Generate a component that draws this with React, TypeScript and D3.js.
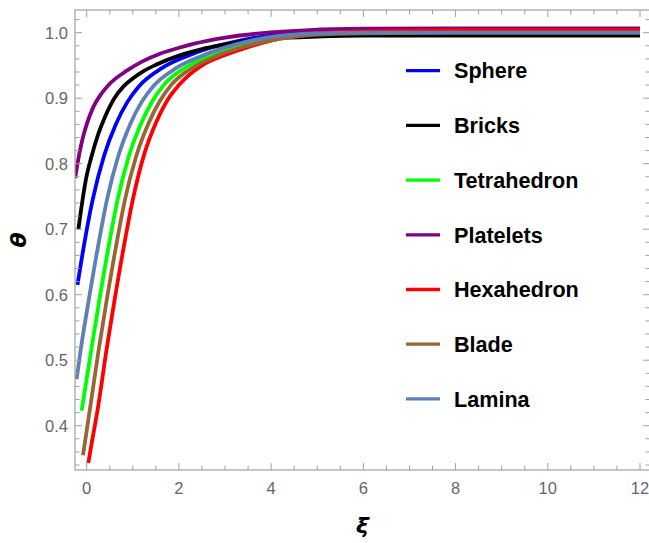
import React from "react";
import * as d3 from "d3";

// ---- data (ξ, θ) ----
const seriesNames = ["Sphere", "Bricks", "Tetrahedron", "Platelets", "Hexahedron", "Blade", "Lamina"];
const seriesColors = ["#0000ff", "#000000", "#00ff00", "#800080", "#ff0000", "#996633", "#5e81b5"];

const sphere: [number, number][] = [
  [-0.2, 0.615], [-0.04, 0.683], [0.13, 0.745], [0.38, 0.813], [0.63, 0.86], [0.88, 0.894],
  [1.13, 0.918], [1.63, 0.946], [2.13, 0.963], [2.63, 0.976], [3.13, 0.985], [3.63, 0.992],
  [4.5, 0.998], [6, 1.0], [8, 1.0], [12, 1.0],
];
const bricks: [number, number][] = [
  [-0.18, 0.7], [-0.1, 0.74], [0.0, 0.782], [0.1, 0.81], [0.25, 0.845], [0.4, 0.872], [0.6, 0.9],
  [0.8, 0.918], [1.0, 0.93], [1.25, 0.942], [1.5, 0.951], [2.0, 0.965], [2.5, 0.975], [3.0, 0.982],
  [3.5, 0.988], [4, 0.991], [5, 0.994], [6, 0.9955], [8, 0.9957], [12, 0.9957],
];
const tetrahedron: [number, number][] = [
  [-0.11, 0.423], [0.1, 0.516], [0.27, 0.59], [0.5, 0.683], [0.67, 0.745], [0.92, 0.813],
  [1.17, 0.86], [1.42, 0.895], [1.67, 0.92], [2.17, 0.948], [2.67, 0.965], [3.17, 0.978],
  [3.67, 0.987], [4.17, 0.994], [5, 0.999], [6, 1.001], [8, 1.002], [12, 1.002],
];
const platelets: [number, number][] = [
  [-0.25, 0.778], [-0.2, 0.8], [-0.1, 0.835], [0.0, 0.86], [0.14, 0.886], [0.3, 0.905],
  [0.5, 0.922], [0.87, 0.942], [1.23, 0.957], [1.59, 0.968], [2.0, 0.977], [2.31, 0.983],
  [3.04, 0.993], [3.76, 0.999], [4.84, 1.004], [6, 1.006], [8, 1.0067], [12, 1.0067],
];
const hexahedron: [number, number][] = [
  [0.035, 0.343], [0.1, 0.37], [0.25, 0.43], [0.43, 0.516], [0.6, 0.59], [0.83, 0.683],
  [1.0, 0.745], [1.25, 0.815], [1.5, 0.862], [1.75, 0.897], [2.0, 0.92], [2.5, 0.95],
  [3.0, 0.966], [3.5, 0.978], [4.0, 0.988], [4.5, 0.995], [5, 0.999], [6, 1.002],
  [7, 1.003], [8, 1.004], [12, 1.004],
];
const blade: [number, number][] = [
  [-0.08, 0.355], [0.08, 0.43], [0.26, 0.516], [0.43, 0.59], [0.66, 0.683], [0.83, 0.745],
  [1.08, 0.813], [1.33, 0.86], [1.58, 0.895], [1.83, 0.92], [2.33, 0.948], [2.83, 0.965],
  [3.33, 0.977], [3.83, 0.986], [4.33, 0.992], [5, 0.997], [6, 0.999], [8, 1.0], [12, 1.0],
];
const lamina: [number, number][] = [
  [-0.22, 0.471], [-0.13, 0.516], [0.04, 0.59], [0.27, 0.683], [0.44, 0.745], [0.69, 0.813],
  [0.94, 0.86], [1.19, 0.894], [1.44, 0.918], [1.94, 0.946], [2.44, 0.963], [2.94, 0.976],
  [3.44, 0.986], [3.94, 0.993], [5, 0.999], [6, 1.0], [8, 1.0], [12, 1.0],
];
const seriesData = [sphere, bricks, tetrahedron, platelets, hexahedron, blade, lamina];

const xMajorTicks = [0, 2, 4, 6, 8, 10, 12];
const yMajorTicks = [0.4, 0.5, 0.6, 0.7, 0.8, 0.9, 1.0];

export default function App() {
  const W = 649, H = 543;
  const L = 75, R = 650, T = 10, B = 470;
  const x = d3.scaleLinear().domain([0, 12]).range([86.7, 640]);
  const y = d3.scaleLinear().domain([0.4, 1.0]).range([425.7, 32.7]);

  const xMinor = d3.range(-1, 13, 0.5).filter((v) => x(v) > L + 1 && x(v) < R - 1 && !xMajorTicks.includes(v));
  const yMinor = d3
    .range(0.3, 1.06, 0.02)
    .map((v) => Math.round(v * 100) / 100)
    .filter((v) => y(v) > T + 1 && y(v) < B - 1 && !yMajorTicks.some((m) => Math.abs(m - v) < 1e-6));

  const line = d3
    .line<[number, number]>()
    .x((d) => x(d[0]))
    .y((d) => y(d[1]))
    .curve(d3.curveMonotoneX);

  const frame = "#a0a0a0";
  const tickCol = "#666666";
  const majLen = 7, minLen = 4.5;
  const legendY0 = 70.7, legendDy = 54.7;

  return (
    <svg width={W} height={H} style={{ position: "absolute", left: 0, top: 0, background: "#fff" }}>
      <defs>
        <clipPath id="plotclip">
          <rect x={L} y={T} width={R - L} height={B - T} />
        </clipPath>
      </defs>
      <rect x={0} y={0} width={W} height={H} fill="#fff" />
      {/* curves */}
      <g clipPath="url(#plotclip)">
        {seriesData.map((s, i) => (
          <path key={i} d={line(s) || ""} fill="none" stroke={seriesColors[i]} strokeWidth={3.8} strokeLinecap="butt" />
        ))}
      </g>
      {/* frame */}
      <rect x={L} y={T} width={R - L} height={B - T} fill="none" stroke={frame} strokeWidth={1.2} />
      {/* x ticks */}
      {xMajorTicks.map((v) => (
        <g key={"xm" + v}>
          <line x1={x(v)} x2={x(v)} y1={B} y2={B - majLen} stroke={frame} />
          <line x1={x(v)} x2={x(v)} y1={T} y2={T + majLen} stroke={frame} />
          <text x={x(v)} y={494} textAnchor="middle" fontFamily="'Liberation Sans', Arial, sans-serif" fontSize={16.5} fill={tickCol}>
            {v}
          </text>
        </g>
      ))}
      {xMinor.map((v) => (
        <g key={"xn" + v}>
          <line x1={x(v)} x2={x(v)} y1={B} y2={B - minLen} stroke={frame} />
          <line x1={x(v)} x2={x(v)} y1={T} y2={T + minLen} stroke={frame} />
        </g>
      ))}
      {/* y ticks */}
      {yMajorTicks.map((v) => (
        <g key={"ym" + v}>
          <line x1={L} x2={L + majLen} y1={y(v)} y2={y(v)} stroke={frame} />
          <line x1={R} x2={R - majLen} y1={y(v)} y2={y(v)} stroke={frame} />
          <text x={68} y={y(v)} dy="0.36em" textAnchor="end" fontFamily="'Liberation Sans', Arial, sans-serif" fontSize={16.5} fill={tickCol}>
            {v.toFixed(1)}
          </text>
        </g>
      ))}
      {yMinor.map((v) => (
        <g key={"yn" + v}>
          <line x1={L} x2={L + minLen} y1={y(v)} y2={y(v)} stroke={frame} />
          <line x1={R} x2={R - minLen} y1={y(v)} y2={y(v)} stroke={frame} />
        </g>
      ))}
      {/* axis labels */}
      <text
        transform={`translate(18.5,${(T + B) / 2}) rotate(-90)`}
        textAnchor="middle"
        dy="0.35em"
        fontFamily="'DejaVu Sans', sans-serif"
        fontWeight="bold"
        fontStyle="italic"
        fontSize={22}
        fill="#000"
      >
        θ
      </text>
      <text
        x={(L + R) / 2}
        y={525}
        textAnchor="middle"
        dy="0.35em"
        fontFamily="'DejaVu Sans', sans-serif"
        fontWeight="bold"
        fontStyle="italic"
        fontSize={22}
        fill="#000"
      >
        ξ
      </text>
      {/* legend */}
      {seriesNames.map((n, i) => {
        const ly = legendY0 + i * legendDy;
        return (
          <g key={n}>
            <line x1={406} x2={440} y1={ly} y2={ly} stroke={seriesColors[i]} strokeWidth={3.3} />
            <text x={454} y={ly} dy="0.36em" fontFamily="'Liberation Sans', Arial, sans-serif" fontWeight="bold" fontSize={21.6} fill="#000">
              {n}
            </text>
          </g>
        );
      })}
    </svg>
  );
}
